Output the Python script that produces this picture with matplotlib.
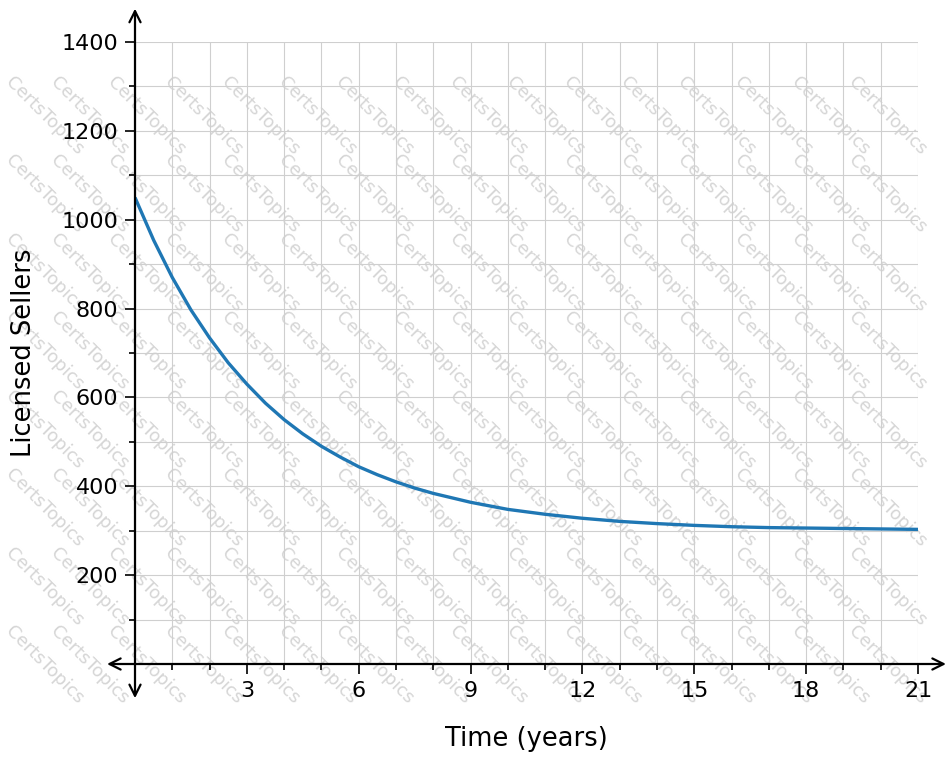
import matplotlib
matplotlib.use("Agg")
import matplotlib.pyplot as plt
from matplotlib.ticker import FixedLocator, MultipleLocator

# ---- data ----
time_years = [0, 0.5, 1, 1.5, 2, 2.5, 3, 3.5, 4, 4.5, 5, 5.5, 6, 6.5, 7, 7.5, 8,
              9, 10, 11, 12, 13, 14, 15, 16, 17, 18, 19, 20, 21]
licensed_sellers = [1050, 954, 870, 797, 734, 678, 630, 587, 550, 518, 490, 466,
                    444, 426, 410, 396, 384, 364, 348, 337, 328, 321, 316, 312,
                    309, 307, 306, 305, 304, 303]
x_tick_values = [3, 6, 9, 12, 15, 18, 21]
y_tick_values = [200, 400, 600, 800, 1000, 1200, 1400]
x_label = "Time (years)"
y_label = "Licensed Sellers"
watermark = "CertsTopics"

W, H = 950, 762
fig = plt.figure(figsize=(W / 100, H / 100), dpi=100)
ax = fig.add_axes([135 / W, 1 - 664 / H, (918 - 135) / W, (664 - 42) / H])
ax.patch.set_alpha(0)

# faint watermark pattern (only copies that fit fully inside the picture)
for i in range(17):
    for j in range(0, 9):
        x0 = 3 + 57 * i if i > 0 else 15
        y0 = 73 + 78.5 * j
        if x0 + 80 > W or y0 + 80 > H:
            continue
        fig.text(x0 / W, 1 - y0 / H, watermark,
                 rotation=-45, rotation_mode="anchor", ha="left", va="top",
                 fontsize=13, color="#d6d6d6", zorder=-5)

ax.plot(time_years, licensed_sellers, color="#1f77b4", lw=2.4, zorder=3,
        solid_capstyle="butt", solid_joinstyle="round")

ax.set_xlim(0, 21)
ax.set_ylim(0, 1400)
ax.xaxis.set_major_locator(FixedLocator(x_tick_values))
ax.xaxis.set_minor_locator(MultipleLocator(1))
ax.yaxis.set_major_locator(FixedLocator(y_tick_values))
ax.yaxis.set_minor_locator(MultipleLocator(100))
ax.grid(True, which="both", color="#cfcfcf", lw=0.8, zorder=0)
ax.set_axisbelow(True)

for s in ax.spines.values():
    s.set_visible(False)

ax.tick_params(axis="both", which="major", length=7, width=1.2, labelsize=16, pad=5,
               color="black")
ax.tick_params(axis="both", which="minor", length=4.5, width=1.2, color="black")

# axes lines with arrows
arrow_kw = dict(arrowstyle="->,head_length=0.4,head_width=0.2", lw=1.6,
                color="black", shrinkA=0, shrinkB=0, mutation_scale=20)
for tip in [(21.75, 0), (-0.75, 0), (0, 1475), (0, -77)]:
    ax.annotate("", xy=tip, xytext=(0, 0), arrowprops=arrow_kw,
                annotation_clip=False, zorder=4)

ax.set_xlabel(x_label, fontsize=18.5)
ax.set_ylabel(y_label, fontsize=18.5)
ax.xaxis.set_label_coords(0.5, (664 - 726) / 622)
ax.yaxis.set_label_coords((37 - 135) / 783, 0.5)

fig.savefig("out.png", dpi=100)
